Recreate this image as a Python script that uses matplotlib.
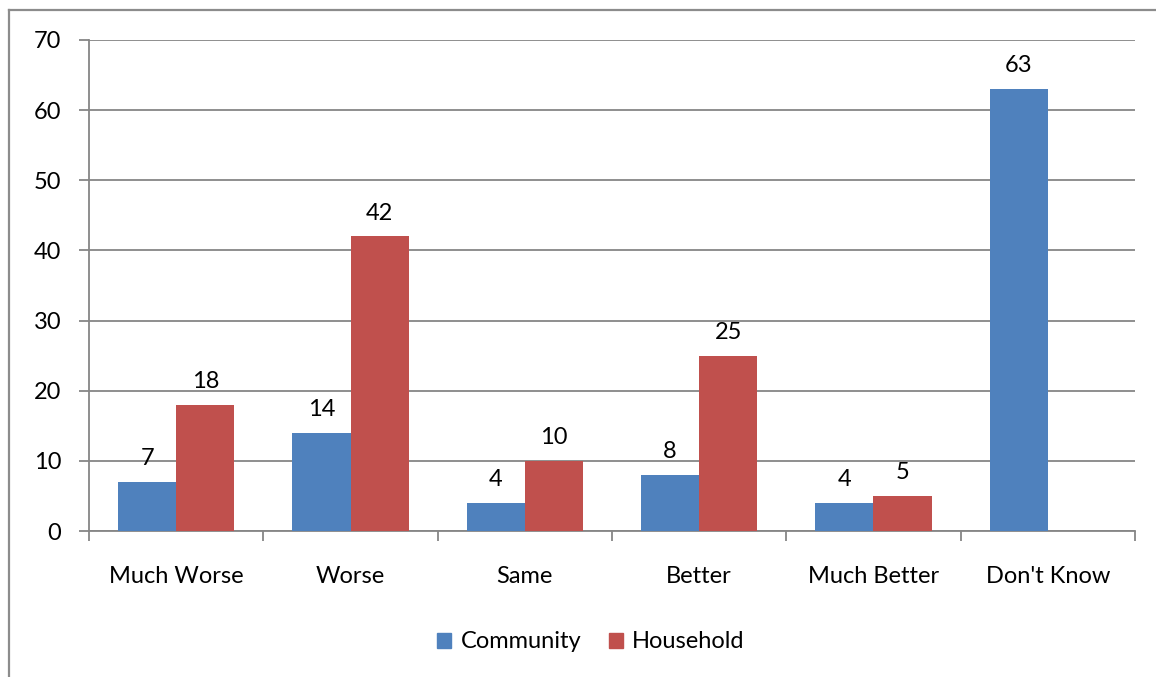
import matplotlib
matplotlib.use("Agg")
import matplotlib.pyplot as plt
from matplotlib.lines import Line2D
import numpy as np

categories = ["Much Worse", "Worse", "Same", "Better", "Much Better", "Don't Know"]
community = [7, 14, 4, 8, 4, 63]
household = [18, 42, 10, 25, 5, None]
y_ticks = [0, 10, 20, 30, 40, 50, 60, 70]

BLUE = "#4F81BD"
RED = "#C0504D"
GRID = "#868686"
FS = 17

plt.rcParams["font.family"] = ["Lato", "DejaVu Sans"]

fig = plt.figure(figsize=(11.56, 6.77), dpi=100)
ax = fig.add_axes([89 / 1156, 1 - 531 / 677, (1135 - 89) / 1156, (531 - 40) / 677])

x = np.arange(len(categories))
w = 1 / 3

for i, v in enumerate(community):
    ax.bar(x[i] - w / 2, v, width=w, color=BLUE, zorder=3)
    ax.annotate(str(v), (x[i] - w / 2, v), xytext=(0, 12), textcoords="offset points",
                ha="center", va="baseline", fontsize=FS, color="#000000")
for i, v in enumerate(household):
    if v is None:
        continue
    ax.bar(x[i] + w / 2, v, width=w, color=RED, zorder=3)
    ax.annotate(str(v), (x[i] + w / 2, v), xytext=(0, 12), textcoords="offset points",
                ha="center", va="baseline", fontsize=FS, color="#000000")

ax.set_xlim(-0.5, len(categories) - 0.5)
ax.set_ylim(0, 70)
ax.set_yticks(y_ticks)
ax.set_yticklabels([str(t) for t in y_ticks], fontsize=FS)
ax.yaxis.grid(True, color=GRID, linewidth=1.3, zorder=0)
ax.set_axisbelow(True)

ax.set_xticks(np.arange(-0.5, len(categories), 1.0))
ax.set_xticklabels([])
ax.set_xticks(x, minor=True)
ax.set_xticklabels(categories, minor=True, fontsize=FS)
ax.tick_params(axis="x", which="minor", length=0, pad=25)
ax.tick_params(axis="x", which="major", length=7, width=1.3, color=GRID, direction="out")
ax.tick_params(axis="y", length=7, width=1.3, color=GRID, direction="out", pad=13)

for side in ("top", "right"):
    ax.spines[side].set_visible(False)
for side in ("left", "bottom"):
    ax.spines[side].set_color(GRID)
    ax.spines[side].set_linewidth(1.3)

handles = [plt.Rectangle((0, 0), 1, 1, color=BLUE), plt.Rectangle((0, 0), 1, 1, color=RED)]
fig.legend(handles, ["Community", "Household"], loc="center", bbox_to_anchor=(591 / 1156, 1 - 642 / 677),
           ncol=2, frameon=False, fontsize=FS, handlelength=0.6, handleheight=0.6,
           handletextpad=0.4, columnspacing=1.15)

# Chart frame (left and top edges)
fig.add_artist(Line2D([9 / 1156, 9 / 1156], [0, 1 - 10 / 677], transform=fig.transFigure,
                      color="#8C8C8C", linewidth=1.6))
fig.add_artist(Line2D([9 / 1156, 1], [1 - 10 / 677, 1 - 10 / 677], transform=fig.transFigure,
                      color="#8C8C8C", linewidth=1.6))

fig.savefig("out.png", dpi=100)
